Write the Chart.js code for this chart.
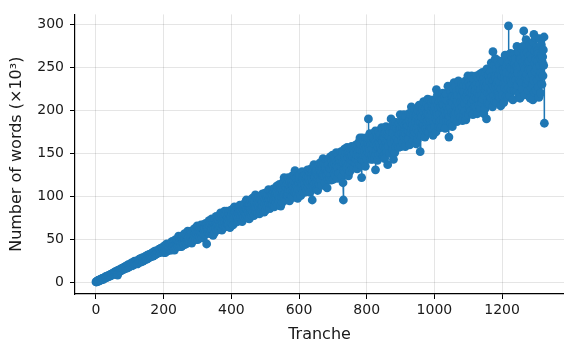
<!DOCTYPE html>
<html>
<head>
<meta charset="utf-8">
<script src="https://cdn.jsdelivr.net/npm/chart.js@4/dist/chart.umd.min.js"></script>
<style>
html,body{margin:0;padding:0;background:#fff;}
canvas{display:block;}
</style>
</head>
<body>
<canvas id="c" width="564" height="343"></canvas>
<script>
// Number of words (x10^3) per tranche, index = tranche number
const words = [
1,1,1,2,2,2,2,3,2,3,3,3,3,4,3,4,4,4,5,4,
5,5,4,5,6,5,6,6,7,6,7,6,7,7,8,7,8,8,7,9,
8,9,9,8,10,9,10,9,10,11,10,11,10,11,12,11,12,13,11,12,
12,13,12,14,9,12,14,13,15,14,13,15,14,16,15,14,16,15,17,16,
16,17,16,18,17,16,18,19,17,18,19,17,20,18,19,21,18,20,19,21,
20,19,22,21,20,23,21,22,20,23,24,22,21,23,25,22,24,23,22,25,
23,25,24,22,26,25,23,27,24,26,25,28,24,27,26,25,29,26,27,25,
27,29,26,28,30,27,29,31,28,27,30,29,32,28,31,30,29,33,30,31,
31,33,30,32,34,31,33,35,32,31,34,36,33,32,35,34,37,33,35,34,
35,37,34,36,38,35,37,39,36,35,38,40,37,36,39,38,41,37,39,38,
39,35,41,43,38,35,41,41,38,45,40,43,37,42,44,39,41,45,38,44,
40,46,44,38,45,48,42,41,45,42,48,44,38,48,44,50,41,46,48,45,
49,44,42,48,54,44,47,47,53,42,50,46,51,42,50,52,46,55,49,46,
44,52,57,50,47,51,55,45,52,54,50,60,48,51,57,50,54,47,57,53,
55,60,52,46,58,54,49,61,58,54,51,56,63,53,56,50,61,58,56,66,
59,50,64,58,54,63,60,53,63,58,67,56,59,63,52,58,67,63,56,62,
60,64,63,56,69,60,66,45,63,69,60,65,58,62,72,67,57,65,70,61,
60,63,74,62,70,67,55,71,64,69,58,74,66,68,63,77,69,61,66,74,
68,73,62,72,66,76,68,65,81,68,74,71,61,77,73,67,70,80,75,65,
83,71,75,79,65,73,69,83,75,68,72,77,81,68,74,80,64,72,84,78,
77,69,81,85,74,67,80,78,74,88,77,83,70,81,85,74,78,86,71,82,
75,86,81,72,84,90,79,75,84,78,89,81,71,87,80,91,76,84,88,82,
90,80,77,86,96,79,85,85,94,75,89,82,91,74,88,91,82,96,85,81,
78,90,98,87,82,90,95,78,89,94,86,102,83,88,98,86,93,81,97,91,
94,100,88,80,97,91,84,101,97,90,86,94,103,89,94,84,101,82,93,104,
97,84,103,95,90,102,98,88,102,95,108,92,97,101,86,95,107,102,91,100,
97,103,101,91,109,96,105,88,100,109,96,103,93,99,112,106,91,102,110,97,
95,100,114,98,109,105,89,110,100,108,93,114,103,106,99,118,122,96,103,113,
106,112,96,110,102,115,105,101,122,104,113,108,95,117,111,102,107,120,114,100,
124,108,113,119,99,110,105,124,130,104,108,116,121,103,112,119,98,108,124,117,
115,104,120,125,111,101,118,116,110,129,114,121,105,119,124,109,115,125,105,121,
111,126,120,107,123,131,116,111,123,115,129,119,105,127,117,132,111,122,127,96,
129,117,112,125,137,115,124,122,134,110,128,118,131,108,126,107,118,137,123,117,
114,130,139,125,119,128,136,113,128,133,123,144,119,126,138,123,132,116,137,129,
133,142,125,110,137,129,120,142,137,128,122,133,146,126,132,119,142,135,132,148,
137,120,145,133,127,143,138,124,143,134,151,130,136,141,121,133,149,143,127,140,
136,144,141,128,152,135,146,123,139,151,116,96,130,138,155,146,128,142,151,135,
133,139,157,135,150,145,124,152,138,149,129,156,142,146,137,158,148,133,141,155,
145,154,133,151,140,158,144,139,160,143,154,148,132,159,151,141,147,163,155,137,
168,148,154,161,136,122,143,168,153,142,148,158,164,141,152,161,135,147,168,158,
156,143,162,168,151,190,160,156,149,173,154,164,143,160,167,148,156,169,143,162,
150,169,161,145,165,176,131,149,164,154,173,160,142,169,157,176,149,163,169,160,
172,157,150,166,180,154,165,163,178,147,169,158,173,144,168,173,157,181,163,156,
152,172,137,165,158,170,179,150,169,176,163,180,190,166,181,162,174,154,180,143,
175,186,165,151,180,170,158,186,179,168,161,174,184,165,173,157,185,177,172,195,
179,158,188,174,166,186,179,162,185,174,195,169,177,183,158,173,192,185,166,181,
176,186,182,166,196,175,188,160,180,195,174,185,204,178,200,188,165,183,194,174,
171,179,201,174,192,186,161,195,178,190,166,200,183,187,175,206,189,171,152,198,
186,197,171,192,179,201,184,177,210,183,197,189,169,202,192,179,187,207,197,175,
213,188,196,204,174,191,182,212,194,180,188,200,208,179,192,203,171,187,212,200,
198,181,204,212,191,175,224,197,188,218,194,206,181,202,210,187,196,212,180,204,
189,212,202,182,207,220,196,188,206,193,216,200,179,212,197,219,188,205,211,200,
228,197,188,169,226,193,206,203,222,185,211,197,216,181,209,216,196,225,232,195,
190,214,228,205,197,211,222,187,210,218,203,234,197,206,225,201,215,192,222,210,
217,230,204,188,222,210,196,229,221,208,199,215,234,189,214,194,228,218,212,240,
221,195,232,214,204,229,220,199,228,214,240,208,218,225,195,212,236,227,204,222,
216,229,223,204,240,214,231,196,220,238,213,227,206,218,242,230,202,224,238,212,
209,218,244,213,235,227,196,238,217,232,202,243,223,228,190,248,231,208,220,241,
226,240,207,234,218,245,223,215,255,222,239,230,204,268,234,217,227,252,239,211,
260,228,237,248,209,231,220,258,235,217,227,242,252,215,232,246,205,225,257,241,
239,217,247,257,230,209,244,238,226,264,234,250,216,243,253,224,236,256,215,298,
226,256,242,217,250,266,235,224,248,231,261,240,212,255,235,265,223,246,254,239,
260,235,223,250,274,229,247,243,268,218,254,235,260,214,250,259,233,272,242,231,
224,256,274,243,292,251,266,218,248,259,239,282,231,242,267,235,255,223,263,247,
257,276,238,214,264,247,226,272,260,242,230,212,279,235,288,221,269,255,245,284,
259,223,273,249,235,269,257,227,266,215,283,239,252,261,220,244,276,264,230,256,
262,240,270,252,285,185
];
const xTickValues = [0, 200, 400, 600, 800, 1000, 1200];
const yTickValues = [0, 50, 100, 150, 200, 250, 300];
const xTitle = 'Tranche';
const yTitle = 'Number of words (\u00d710\u00b3)';

const points = words.map((v, i) => ({x: i, y: v}));
const BLUE = '#1f77b4';
const FONT = "'DejaVu Sans', sans-serif";

new Chart(document.getElementById('c'), {
  type: 'line',
  data: {
    datasets: [{
      data: points,
      borderColor: BLUE,
      backgroundColor: BLUE,
      borderWidth: 1.5,
      pointRadius: 4.4,
      pointBorderWidth: 0,
      pointBackgroundColor: BLUE,
      pointHoverRadius: 4.4,
      tension: 0,
      fill: false
    }]
  },
  options: {
    responsive: false,
    animation: false,
    events: [],
    layout: {autoPadding: false, padding: {top: 12, right: 0, bottom: 0, left: 0}},
    plugins: {legend: {display: false}, tooltip: {enabled: false}},
    scales: {
      x: {
        type: 'linear',
        min: -62,
        max: 1383,
        afterBuildTicks: s => { s.ticks = xTickValues.map(v => ({value: v})); },
        afterFit: s => { s.height = 49; },
        grid: {color: 'rgba(0,0,0,0.1)', lineWidth: 1, tickLength: 5, tickColor: '#000', tickWidth: 1},
        border: {display: true, color: '#000', width: 1.2},
        ticks: {font: {family: FONT, size: 14}, color: '#1a1a1a', padding: 3, maxRotation: 0, callback: v => String(v)},
        title: {display: true, text: xTitle, font: {family: FONT, size: 16}, color: '#1a1a1a', padding: {top: 0, bottom: -1}}
      },
      y: {
        type: 'linear',
        min: -13,
        max: 311.2,
        afterBuildTicks: s => { s.ticks = yTickValues.map(v => ({value: v})); },
        afterFit: s => { s.width = 75; },
        grid: {color: 'rgba(0,0,0,0.1)', lineWidth: 1, tickLength: 5, tickColor: '#000', tickWidth: 1},
        border: {display: true, color: '#000', width: 1.2},
        ticks: {font: {family: FONT, size: 14}, color: '#1a1a1a', padding: 6, callback: v => String(v)},
        title: {display: true, text: yTitle, font: {family: FONT, size: 16}, color: '#1a1a1a', padding: {top: 7, bottom: 0}}
      }
    }
  }
});
</script>
</body>
</html>
